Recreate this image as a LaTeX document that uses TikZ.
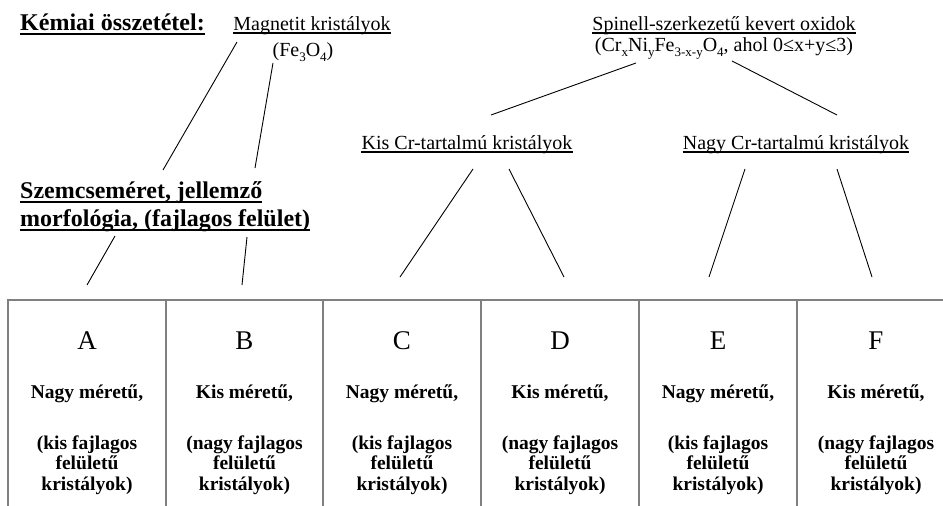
\documentclass[tikz,border=0pt]{standalone}
\usepackage{fontspec}
\setmainfont{Liberation Serif}
\newcommand\mysub[1]{\raisebox{-0.55ex}{\fontsize{13}{13}\selectfont #1}}
\begin{document}
\begin{tikzpicture}[x=1pt,y=-1pt,
  lbl/.style={inner sep=0pt, anchor=base, font=\fontsize{20}{24}\selectfont},
  hdr/.style={inner sep=0pt, anchor=base west, font=\fontsize{24}{28}\selectfont\bfseries},
  letter/.style={inner sep=0pt, anchor=base, font=\fontsize{27}{30}\selectfont},
  desc/.style={inner sep=0pt, anchor=base, font=\fontsize{19.5}{20.5}\selectfont\bfseries},
  conn/.style={black, line width=0.9pt},
  ulreg/.style={black, line width=1.1pt},
  ulbold/.style={black, line width=2pt},
  gridline/.style={draw={rgb,255:red,128;green,128;blue,128}, line width=1.6pt}]
\useasboundingbox (0,0) rectangle (943,506);
\fill[white] (0,0) rectangle (943,506);

% headers
\node[hdr] (kem) at (20,30.5) {Kémiai összetétel:};
\draw[ulbold] ([yshift=-3.5pt]kem.base west) -- ([yshift=-3.5pt]kem.base east);
\node[hdr] (sz1) at (20,198) {Szemcseméret, jellemző};
\draw[ulbold] ([yshift=-4pt]sz1.base west) -- ([yshift=-4pt]sz1.base east);
\node[hdr] (sz2) at (20,226) {morfológia, (fajlagos felület)};
\draw[ulbold] ([yshift=-4pt]sz2.base west) -- ([yshift=-4pt]sz2.base east);

% composition labels
\node[lbl] (mag) at (312,30.5) {Magnetit kristályok};
\draw[ulreg] ([yshift=-2.5pt]mag.base west) -- ([yshift=-2.5pt]mag.base east);
\node[lbl] (magf) at (303,56) {(Fe\mysub{3}O\mysub{4})};
\node[lbl] (spi) at (724,30.5) {Spinell-szerkezetű kevert oxidok};
\draw[ulreg] ([yshift=-2.5pt]spi.base west) -- ([yshift=-2.5pt]spi.base east);
\node[lbl] (spif) at (724,51) {(Cr\mysub{x}Ni\mysub{y}Fe\mysub{3-x-y}O\mysub{4}, ahol 0≤x+y≤3)};
\node[lbl] (kis) at (467,149.5) {Kis Cr-tartalmú kristályok};
\draw[ulreg] ([yshift=-2.5pt]kis.base west) -- ([yshift=-2.5pt]kis.base east);
\node[lbl] (nagy) at (796,149.5) {Nagy Cr-tartalmú kristályok};
\draw[ulreg] ([yshift=-2.5pt]nagy.base west) -- ([yshift=-2.5pt]nagy.base east);

% connector end points
\coordinate (m1a) at (237,42);  \coordinate (m1b) at (163,170);
\coordinate (m2a) at (273,63);  \coordinate (m2b) at (255,168);
\coordinate (s1a) at (115,236); \coordinate (s1b) at (87,285);
\coordinate (s2a) at (247,237); \coordinate (s2b) at (242,285);
\coordinate (p1a) at (636,63);  \coordinate (p1b) at (491,115);
\coordinate (p2a) at (732,61);  \coordinate (p2b) at (837,115);
\coordinate (k1a) at (473,169); \coordinate (k1b) at (400,277);
\coordinate (k2a) at (509,169); \coordinate (k2b) at (564,277);
\coordinate (n1a) at (745,169); \coordinate (n1b) at (709,277);
\coordinate (n2a) at (837,169); \coordinate (n2b) at (872,277);
\foreach \c in {m1,m2,s1,s2,p1,p2,k1,k2,n1,n2}
  \draw[conn] (\c a) -- (\c b);

% table
\coordinate (tl) at (8,300);
\coordinate (tr) at (943,300);
\draw[gridline] (tr) -- (tl) -- (8,506);
\foreach \x in {166,323,481,639,797}
  \draw[gridline] (\x,300) -- (\x,506);

% cells
\foreach \n/\cx/\L/\size/\fs in {
  A/87/A/Nagy/kis,
  B/244.5/B/Kis/nagy,
  C/402/C/Nagy/kis,
  D/560/D/Kis/nagy,
  E/718/E/Nagy/kis,
  F/876/F/Kis/nagy}{
  \node[letter] (l\n) at (\cx,349) {\L};
  \node[desc] (d\n) at (\cx,398) {\size{} méretű,};
  \node[desc] (e\n) at (\cx,449) {(\fs{} fajlagos};
  \node[desc] (f\n) at (\cx,469.5) {felületű};
  \node[desc] (g\n) at (\cx,490) {kristályok)};
}
\end{tikzpicture}
\end{document}
